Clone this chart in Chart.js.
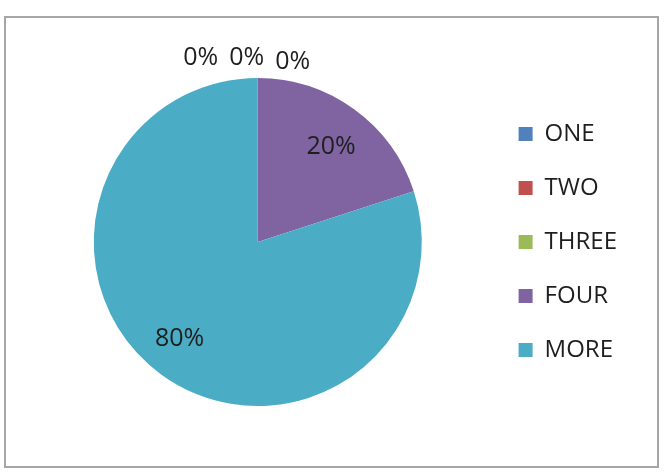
<!DOCTYPE html>
<html>
<head>
<meta charset="utf-8">
<title>Pie</title>
<script src="https://cdn.jsdelivr.net/npm/chart.js"></script>
<style>
  body { margin: 0; background: #fff; }
  #frame { position: absolute; left: 4px; top: 16px; width: 651px; height: 448px; border: 2px solid #a6a6a6; }
  #box { position: absolute; left: 0; top: 0; width: 664px; height: 474px; }
</style>
</head>
<body>
<div id="frame"></div>
<div id="box"><canvas id="pieChart"></canvas></div>
<script>
const categories = ['ONE', 'TWO', 'THREE', 'FOUR', 'MORE'];
const shares = [0, 0, 0, 20, 80];
const colors = ['#4F81BD', '#C0504D', '#9BBB59', '#8064A2', '#4BACC6'];

// percent labels, Excel style
const pctLabels = {
  id: 'pctLabels',
  afterDatasetsDraw(chart) {
    const ctx = chart.ctx;
    const arcs = chart.getDatasetMeta(0).data;
    const total = shares.reduce((a, b) => a + b, 0);
    ctx.save();
    ctx.font = '25px "Open Sans"';
    ctx.fillStyle = '#1e1e1e';
    ctx.textAlign = 'center';
    ctx.textBaseline = 'middle';
    let zeroX = null;
    arcs.forEach((arc, i) => {
      const txt = Math.round(shares[i] / total * 100) + '%';
      const mid = (arc.startAngle + arc.endAngle) / 2;
      if (shares[i] === 0) {
        // empty slices: stacked in a row above the top
        if (zeroX === null) zeroX = arc.x - 57;
        ctx.fillText(txt, zeroX, arc.y - arc.outerRadius - 20 + (i === 2 ? 4 : 0));
        zeroX += 46;
      } else {
        const r = arc.outerRadius * (shares[i] > 50 ? 0.76 : 0.73);
        const a = mid + (shares[i] > 50 ? 0.05 : 0.03);
        ctx.fillText(txt, arc.x + Math.cos(a) * r, arc.y + Math.sin(a) * r);
      }
    });
    ctx.restore();
  }
};

new Chart(document.getElementById('pieChart'), {
  type: 'pie',
  data: {
    labels: categories,
    datasets: [{
      data: shares,
      backgroundColor: colors,
      borderWidth: 0
    }]
  },
  options: {
    responsive: true,
    maintainAspectRatio: false,
    animation: false,
    layout: { padding: { top: 78, bottom: 68, left: 27, right: 37 } },
    plugins: {
      legend: {
        position: 'right',
        labels: {
          boxWidth: 14,
          boxHeight: 14,
          padding: 30,
          color: '#1e1e1e',
          font: { family: 'Open Sans', size: 24 }
        }
      },
      tooltip: { enabled: false }
    }
  },
  plugins: [pctLabels]
});
</script>
</body>
</html>
